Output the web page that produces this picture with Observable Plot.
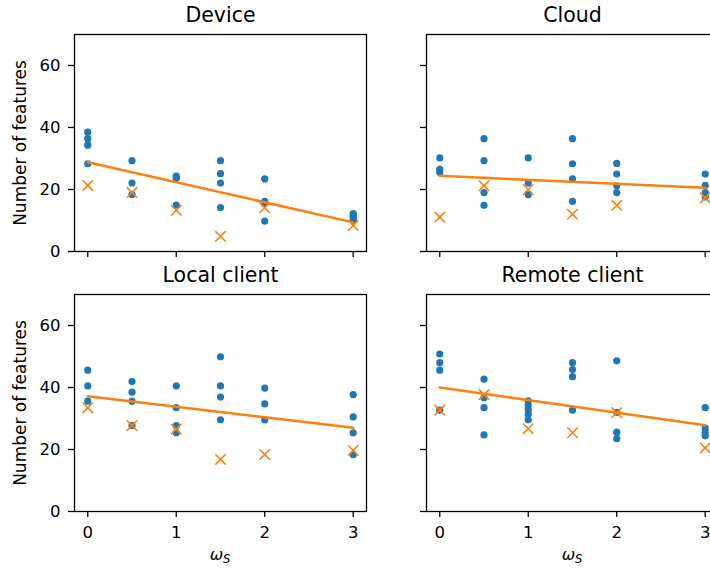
<!DOCTYPE html>
<html><head><meta charset="utf-8">
<script src="https://cdn.jsdelivr.net/npm/d3@7"></script>
<script src="https://cdn.jsdelivr.net/npm/@observablehq/plot@0.6"></script>
<style>
html,body{margin:0;padding:0;background:#fff;overflow:hidden;}
#chart{position:relative;width:710px;height:571px;overflow:hidden;font-family:"DejaVu Sans",sans-serif;}
#chart svg{position:absolute;}
.xlab{position:absolute;top:546.5px;transform:translateX(-50%);font:italic 16px "DejaVu Sans",sans-serif;line-height:1;white-space:nowrap;color:#000;}
.xlab sub{font-size:11.5px;vertical-align:-2.5px;line-height:0;}
</style></head><body><div id="chart"></div>
<script>
// ---- data ----
const omegaS = [0, 0.5, 1, 1.5, 2, 3];
const fitX = [0, 3];
const xTicks = [0, 1, 2, 3];
const yTicks = [0, 20, 40, 60];
const panelTitles = ["Device", "Cloud", "Local client", "Remote client"];
const yLabel = "Number of features";

const deviceDots = [[38.5, 36.4, 34.3, 28.3], [29.3, 22.1, 18.4], [24.3, 23.6, 15.0], [29.3, 25.1, 22.1, 14.2], [23.4, 16.2, 15.5, 9.8], [12.2, 11.5, 10.8, 10.1]];
const deviceCross = [21.3, 19.0, 13.3, 4.9, 14.1, 8.4];
const deviceFit = [28.8, 9.4];

const cloudDots = [[30.2, 26.5, 25.5], [36.4, 29.3, 19.0, 14.9], [30.2, 22.1, 18.3], [36.4, 28.3, 23.4, 16.2], [28.4, 25.0, 21.2, 19.0], [25.0, 21.3, 19.0, 17.6]];
const cloudCross = [11.1, 21.2, 20.0, 12.0, 14.9, 17.3];
const cloudFit = [24.4, 20.6];

const localDots = [[45.6, 40.5, 35.6], [41.9, 38.5, 35.6, 27.7], [40.5, 33.5, 27.7, 25.4], [49.9, 40.5, 36.9, 29.6], [39.8, 34.7, 29.6], [37.7, 30.5, 25.4, 18.3]];
const localCross = [33.5, 27.7, 26.6, 16.8, 18.4, 19.7];
const localFit = [37.2, 27.0];

const remoteDots = [[50.8, 48.0, 45.6, 32.7], [42.7, 36.7, 33.5, 24.7], [35.7, 34.3, 32.9, 31.4, 29.6], [48.0, 45.8, 43.5, 32.7], [48.6, 32.0, 25.6, 23.5], [33.5, 26.9, 25.6, 24.4]];
const remoteCross = [32.7, 37.7, 26.7, 25.4, 31.9, 20.5];
const remoteFit = [40.0, 27.8];

const panels = [
  {title: panelTitles[0], dots: deviceDots, cross: deviceCross, fit: deviceFit, col: 0, row: 0},
  {title: panelTitles[1], dots: cloudDots, cross: cloudCross, fit: cloudFit, col: 1, row: 0},
  {title: panelTitles[2], dots: localDots, cross: localCross, fit: localFit, col: 0, row: 1},
  {title: panelTitles[3], dots: remoteDots, cross: remoteCross, fit: remoteFit, col: 1, row: 1}
];

const chart = document.getElementById("chart");
const BLUE = "#1f77b4", ORANGE = "#ff7f0e";

for (const p of panels) {
  const showX = p.row === 1, showY = p.col === 0;
  const dots = omegaS.flatMap((x, i) => p.dots[i].map(v => ({x, y: v})));
  const crosses = omegaS.map((x, i) => ({x, y: p.cross[i]}));
  const fit = fitX.map((x, i) => ({x, y: p.fit[i]}));
  const svg = Plot.plot({
    width: 376,
    height: p.row === 0 ? 259 : 311,
    marginLeft: 74, marginRight: 10, marginTop: 34,
    marginBottom: p.row === 0 ? 8 : 60,
    x: {domain: [-0.15, 3.15]},
    y: {domain: [0, 70]},
    style: {fontFamily: '"DejaVu Sans", sans-serif', fontSize: "16.5px", color: "#000", background: "transparent", overflow: "visible"},
    marks: [
      Plot.axisX({ticks: xTicks, tickSize: 6, tickPadding: 9, strokeWidth: 1.3, tickFormat: showX ? d => String(d) : () => "", label: null}),
      Plot.axisY({ticks: yTicks, tickSize: 6, tickPadding: 8, strokeWidth: 1.3, tickFormat: showY ? d => String(d) : () => "", label: null}),
      Plot.dot(dots, {x: "x", y: "y", r: 3.6, fill: BLUE}),
      Plot.line(fit, {x: "x", y: "y", stroke: ORANGE, strokeWidth: 2.5}),
      Plot.dot(crosses, {x: "x", y: "y", symbol: "times", r: 4.8, stroke: ORANGE, strokeWidth: 1.6}),
      Plot.frame({stroke: "#000", strokeWidth: 1.3}),
      Plot.text([p.title], {text: d => d, frameAnchor: "top", dy: -18.6, lineAnchor: "middle", fontSize: 20.5, fill: "#000"}),
      showY ? Plot.text([yLabel], {text: d => d, frameAnchor: "left", dx: -54.4, rotate: -90, textAnchor: "middle", lineAnchor: "middle", fontSize: 17, fill: "#000"}) : null
    ]
  });
  svg.style.left = (p.col === 0 ? 0 : 352) + "px";
  svg.style.top = (p.row === 0 ? 0 : 260) + "px";
  chart.appendChild(svg);
}

for (const cx of [220, 572]) {
  const d = document.createElement("div");
  d.className = "xlab";
  d.style.left = cx + "px";
  d.innerHTML = "ω<sub>S</sub>";
  chart.appendChild(d);
}
</script>
</body></html>
